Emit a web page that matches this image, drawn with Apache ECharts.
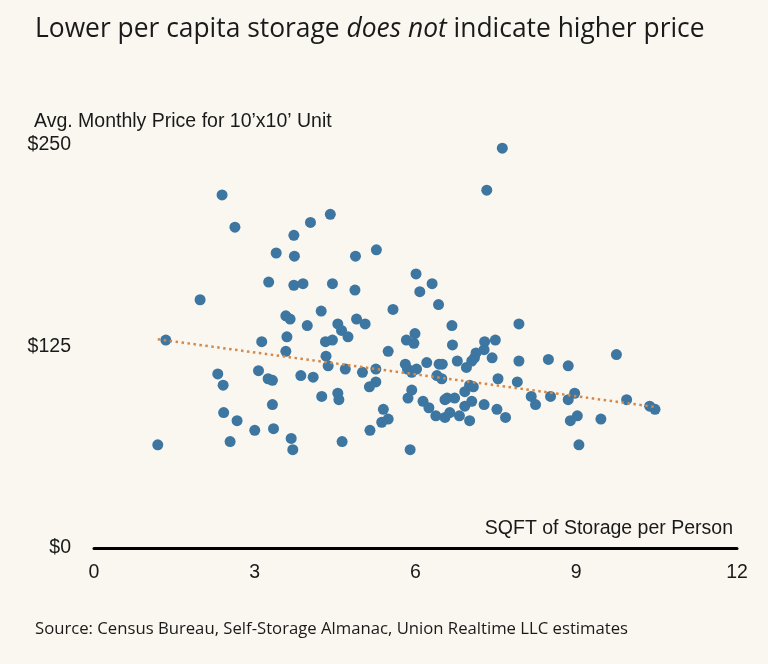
<!DOCTYPE html>
<html><head><meta charset="utf-8">
<script src="https://cdn.jsdelivr.net/npm/echarts@6/dist/echarts.min.js"></script>
<style>html,body{margin:0;padding:0;background:#FAF7F0;}#c{width:768px;height:664px;}</style>
</head><body><div id="c"></div>
<script>
// SQFT of storage per person
var sqft = [2.39,2.63,4.41,4.04,3.73,3.40,3.74,4.88,3.26,3.73,3.90,4.45,4.87,1.98,4.24,3.58,3.66,3.98,4.55,4.62,4.74,4.90,
  7.62,7.33,5.27,6.01,6.31,6.08,6.43,5.58,5.06,6.68,7.93,1.34,3.13,3.60,4.32,4.45,3.58,4.33,4.37,4.69,2.31,2.41,3.07,3.25,3.33,
  3.86,4.09,4.25,4.55,4.57,3.33,2.42,2.67,3.00,3.35,3.68,3.71,2.54,4.63,1.19,5.83,5.99,5.97,5.49,6.69,7.29,7.49,7.28,7.13,7.10,
  7.05,7.43,7.93,8.48,8.85,5.01,5.26,5.26,5.14,5.81,5.85,5.93,6.02,6.21,6.44,6.50,6.78,6.95,6.40,6.49,7.01,7.08,6.92,7.54,7.90,
  5.93,5.86,6.14,6.25,6.38,6.55,6.59,6.73,6.55,6.64,6.82,6.92,7.05,7.01,7.28,7.52,7.68,8.16,8.24,8.52,8.85,8.97,5.40,5.49,5.37,
  5.15,5.90,8.89,9.02,9.75,9.94,10.37,10.47,9.46,9.05];
// Avg monthly price for 10'x10' unit ($)
var price = [219,199,207,202,194,183,181,181,165,163,164,164,160,154,147,144,142,138,139,135,131,142,
  248,222,185,170,164,159,151,148,139,138,139,129,128,131,128,129,122,119,113,111,108,101,110,105,104,
  107,106,94,96,92,89,84,79,73,74,68,61,66,66,64,129,133,127,122,126,128,129,123,121,118,
  116,118,116,117,113,109,111,103,100,114,111,109,111,115,114,114,116,112,107,105,101,100,97,105,103,
  98,93,91,87,82,81,93,93,92,84,82,88,91,79,89,86,81,94,89,94,92,96,86,80,78,
  73,61,79,82,120,92,88,86,80,64];
// Trend line endpoints
var trendX = [1.19, 10.47];
var trendY = [129.5, 87.5];
var xTicks = [0, 3, 6, 9, 12];
var yTicks = [0, 125, 250];

var pts = sqft.map(function(x, i){ return [x, price[i]]; });
var trend = trendX.map(function(x, i){ return [x, trendY[i]]; });

var font = '"Open Sans", "Noto Sans", sans-serif';
var hfont = '"Liberation Sans", Arial, sans-serif';
var chart = echarts.init(document.getElementById('c'), null, {renderer: 'canvas'});
chart.setOption({
  backgroundColor: '#FAF7F0',
  animation: false,
  title: [{
    text: '{n|Lower per capita storage }{i|does not}{n| indicate higher price}',
    left: 35, top: 16, padding: 0,
    textStyle: { rich: {
      n: {fontFamily: font, fontSize: 26.4, fontWeight: 'normal', color: '#1a1a1a'},
      i: {fontFamily: font, fontSize: 26.4, fontWeight: 'normal', color: '#1a1a1a', fontStyle: 'italic'}
    }}
  }, {
    text: 'Avg. Monthly Price for 10\u2019x10\u2019 Unit',
    left: 34, top: 112, padding: 0,
    textStyle: {fontFamily: hfont, fontSize: 19.5, fontWeight: 'normal', color: '#1a1a1a'}
  }, {
    text: 'SQFT of Storage per Person',
    right: 35, top: 519, padding: 0,
    textStyle: {fontFamily: hfont, fontSize: 19.5, fontWeight: 'normal', color: '#1a1a1a'}
  }, {
    text: 'Source: Census Bureau, Self-Storage Almanac, Union Realtime LLC estimates',
    left: 35, top: 621, padding: 0,
    textStyle: {fontFamily: font, fontSize: 16.7, fontWeight: 'normal', color: '#1a1a1a'}
  }],
  grid: {left: 94, right: 31, top: 145, bottom: 116, containLabel: false},
  xAxis: {
    type: 'value', min: xTicks[0], max: xTicks[xTicks.length-1], interval: 3,
    axisLine: {show: true, onZero: false, lineStyle: {color: '#000', width: 3}},
    axisTick: {show: false}, splitLine: {show: false},
    axisLabel: {fontFamily: hfont, fontSize: 19.5, color: '#1a1a1a', margin: 15}
  },
  yAxis: {
    type: 'value', min: yTicks[0], max: yTicks[yTicks.length-1], interval: 125,
    axisLine: {show: false}, axisTick: {show: false}, splitLine: {show: false},
    axisLabel: {fontFamily: hfont, fontSize: 19.5, color: '#1a1a1a', margin: 23,
      formatter: function(v){ return '$' + v; }}
  },
  series: [{
    type: 'scatter', data: pts, symbolSize: 11,
    itemStyle: {color: '#3C76A1', opacity: 1}, z: 2
  }, {
    type: 'line', data: trend, symbol: 'none', z: 3,
    lineStyle: {color: '#D4894A', width: 2.5, type: [2.5, 3.5]}
  }]
});
</script></body></html>
